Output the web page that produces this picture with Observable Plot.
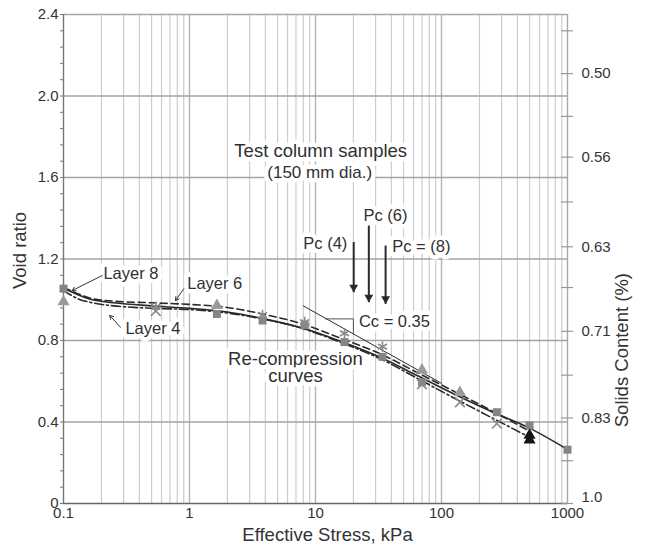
<!DOCTYPE html>
<html><head><meta charset="utf-8">
<script src="https://cdn.jsdelivr.net/npm/d3@7"></script>
<script src="https://cdn.jsdelivr.net/npm/@observablehq/plot@0.6"></script>
<style>
html,body{margin:0;padding:0;background:#fff;}
#chart{width:645px;height:550px;}
</style>
</head><body><div id="chart"></div>
<script>
// ---- curves (void ratio vs effective stress) ----
const layer8Stress = [0.1, 0.13, 0.17, 0.25, 0.5, 1, 2, 4, 8, 16, 32, 64, 128, 256, 500, 1000];
const layer8Void   = [1.058, 1.025, 1.0, 0.985, 0.97, 0.958, 0.94, 0.905, 0.86, 0.795, 0.72, 0.628, 0.535, 0.448, 0.37, 0.265];
const layer6Stress = [0.1, 0.13, 0.17, 0.25, 0.5, 1, 2, 4, 8, 16, 32, 64, 128, 256, 500];
const layer6Void   = [1.06, 1.03, 1.005, 0.993, 0.985, 0.977, 0.962, 0.927, 0.88, 0.81, 0.737, 0.643, 0.548, 0.452, 0.355];
const layer4Stress = [0.1, 0.13, 0.17, 0.25, 0.5, 1, 2, 4, 8, 16, 32, 64, 128, 256, 500];
const layer4Void   = [1.045, 1.005, 0.985, 0.97, 0.958, 0.952, 0.935, 0.903, 0.858, 0.79, 0.713, 0.615, 0.515, 0.418, 0.325];

// ---- measured points ----
const squareStress = [0.1, 1.65, 3.8, 8.2, 17, 34, 70, 275, 500, 1000];
const squareVoid   = [1.055, 0.93, 0.898, 0.875, 0.792, 0.72, 0.595, 0.448, 0.383, 0.264];
const triStress = [0.1, 1.65, 70, 140];
const triVoid   = [0.99, 0.972, 0.655, 0.545];
const starStress = [0.54, 3.8, 8.2, 17, 34];
const starVoid   = [0.965, 0.925, 0.89, 0.835, 0.77];
const crossStress = [0.54, 70, 140, 275];
const crossVoid   = [0.945, 0.585, 0.497, 0.392];
const blackTriStress = [500, 500];
const blackTriVoid   = [0.335, 0.312];

// ---- Cc tangent and slope bracket ----
const tangentStress = [8, 100];
const tangentVoid   = [0.97, 0.59];
const bracketStress = [12, 20, 20];
const bracketVoid   = [0.906, 0.906, 0.832];

// ---- preconsolidation arrows ----
const pcStress = [20.1, 26.5, 36];
const pcTop    = [1.283, 1.364, 1.266];
const pcTip    = [1.037, 0.988, 0.98];

// ---- layer label arrows ----
const labelArrowX1 = [0.203, 0.901, 0.283];
const labelArrowY1 = [1.119, 1.054, 0.865];
const labelArrowX2 = [0.117, 0.774, 0.233];
const labelArrowY2 = [1.045, 0.996, 0.923];

// ---- ticks ----
const xTicks = [0.1, 1, 10, 100, 1000];
const xMinorGrid = [0.2,0.3,0.4,0.5,0.6,0.7,0.8,0.9, 2,3,4,5,6,7,8,9, 20,30,40,50,60,70,80,90, 200,300,400,500,600,700,800,900];
const xDecadeGrid = [1, 10, 100];
const yMajor = [0, 0.4, 0.8, 1.2, 1.6, 2.0, 2.4];
const yMinor = d3.range(0, 2.4001, 0.08);
const rightTickPos = [0, 0.21, 0.42, 0.63, 0.845, 1.06, 1.26, 1.48, 1.70, 1.90, 2.11, 2.32];
const rightLabelPos = [0.03, 0.42, 0.845, 1.26, 1.70, 2.11];
const rightLabels = ["1.0", "0.83", "0.71", "0.63", "0.56", "0.50"];

const toPts = (xs, ys) => xs.map((x, i) => ({x, y: ys[i]}));
const ink = "#2a2a2a";
const FONT = "'Liberation Sans', Arial, sans-serif";

const annoBig = [
  {t: "Test column samples", x: 11, y: 1.728, a: "middle"},
  {t: "Re-compression", x: 6.93, y: 0.71, a: "middle"},
  {t: "curves", x: 6.93, y: 0.623, a: "middle"}
];
const annoMid = [
  {t: "(150 mm dia.)", x: 10.8, y: 1.625, a: "middle"}
];
const annoSmall = [
  {t: "Pc (4)", x: 17.9, y: 1.276, a: "end"},
  {t: "Pc (6)", x: 35.9, y: 1.413, a: "middle"},
  {t: "Pc = (8)", x: 40.6, y: 1.258, a: "start"},
  {t: "Cc = 0.35", x: 22.1, y: 0.89, a: "start"},
  {t: "Layer 8", x: 0.2075, y: 1.127, a: "start"},
  {t: "Layer 6", x: 0.959, y: 1.078, a: "start"},
  {t: "Layer 4", x: 0.31, y: 0.857, a: "start"}
];
const annoText = (data, size) => ["start","middle","end"].map(a =>
  Plot.text(data.filter(d => d.a === a), {x: "x", y: "y", text: "t", textAnchor: a, fontSize: size,
    fill: "#303030", stroke: "white", strokeWidth: 9, paintOrder: "stroke", strokeLinejoin: "round"}));

const chart = Plot.plot({
  width: 645, height: 550,
  marginLeft: 63, marginRight: 78, marginTop: 14, marginBottom: 47,
  x: {type: "log", domain: [0.1, 1000]},
  y: {domain: [0, 2.4]},
  style: {fontFamily: FONT, background: "white", color: "#333", overflow: "visible"},
  marks: [
    Plot.ruleX(xMinorGrid, {stroke: "#cdcdcd", strokeWidth: 1.2}),
    Plot.ruleX(xDecadeGrid, {stroke: "#b4b4b4", strokeWidth: 1.4}),
    Plot.ruleY(yMajor.filter(d => d > 0 && d < 2.4), {stroke: "#a3a3a3", strokeWidth: 1.4}),
    Plot.ruleY([2.4], {stroke: "#a8a8a8", strokeWidth: 1.4}),
    Plot.ruleX([1000], {stroke: "#a8a8a8", strokeWidth: 1.4}),
    ...annoText(annoBig, 18.5),
    ...annoText(annoMid, 17),
    ...annoText(annoSmall, 16.5),
    Plot.ruleX([0.1], {stroke: "#777", strokeWidth: 1.4}),
    Plot.ruleY([0], {stroke: "#666", strokeWidth: 1.6}),
    // tangent & bracket
    Plot.line(toPts(tangentStress, tangentVoid), {x: "x", y: "y", stroke: ink, strokeWidth: 1}),
    Plot.line(toPts(bracketStress, bracketVoid), {x: "x", y: "y", stroke: "#555", strokeWidth: 1}),
    // curves
    Plot.line(toPts(layer8Stress, layer8Void), {x: "x", y: "y", curve: "catmull-rom", stroke: ink, strokeWidth: 1.6}),
    Plot.line(toPts(layer6Stress, layer6Void), {x: "x", y: "y", curve: "catmull-rom", stroke: ink, strokeWidth: 1.6, strokeDasharray: "7,4"}),
    Plot.line(toPts(layer4Stress, layer4Void), {x: "x", y: "y", curve: "catmull-rom", stroke: ink, strokeWidth: 1.6, strokeDasharray: "9,3,2,3"}),
    // markers
    Plot.dot(toPts(squareStress, squareVoid), {x: "x", y: "y", symbol: "square", r: 4.5, fill: "#858585"}),
    Plot.dot(toPts(triStress, triVoid), {x: "x", y: "y", symbol: "triangle", r: 4.5, fill: "#9a9a9a"}),
    Plot.dot(toPts(starStress, starVoid), {x: "x", y: "y", symbol: "asterisk", r: 5, stroke: "#8a8a8a", strokeWidth: 1.6}),
    Plot.dot(toPts(crossStress, crossVoid), {x: "x", y: "y", symbol: "times", r: 4.5, stroke: "#8a8a8a", strokeWidth: 1.6}),
    Plot.dot(toPts(blackTriStress, blackTriVoid), {x: "x", y: "y", symbol: "triangle", r: 4.5, fill: "#151515"}),
    // Pc arrows
    Plot.link(pcStress, {x1: d => d, x2: d => d, y1: (d, i) => pcTop[i], y2: (d, i) => pcTip[i], stroke: ink, strokeWidth: 2}),
    Plot.dot(pcStress, {x: d => d, y: (d, i) => pcTip[i], symbol: "triangle", rotate: 180, r: 3.3, fill: ink, dy: -5}),
    // layer label arrows
    Plot.arrow(labelArrowX1, {x1: d => d, y1: (d, i) => labelArrowY1[i], x2: (d, i) => labelArrowX2[i], y2: (d, i) => labelArrowY2[i],
      stroke: "#333", strokeWidth: 1, headLength: 6}),
    // axes
    Plot.axisY({anchor: "left", ticks: yMinor, tickSize: 3, tickFormat: () => "", stroke: "#777", label: null}),
    Plot.axisY({anchor: "left", ticks: yMajor, tickSize: 0, tickPadding: 5, fontSize: 15, color: "#333",
      tickFormat: d => d === 0 ? "0" : d.toFixed(1), label: null}),
    Plot.axisX({anchor: "bottom", ticks: xTicks, tickSize: 0, tickPadding: 4, fontSize: 15, color: "#333",
      tickFormat: d => String(d), label: null}),
    Plot.ruleY(rightTickPos, {y: d => d, x1: 1000, x2: 1000, insetLeft: -6, insetRight: -6, stroke: "#999", strokeWidth: 1.2}),
    Plot.axisY({anchor: "right", ticks: rightLabelPos, tickSize: 0, tickPadding: 14, fontSize: 15, color: "#333",
      tickFormat: d => rightLabels[rightLabelPos.indexOf(d)], label: null}),
    // axis titles
    Plot.text(["Effective Stress, kPa"], {text: d => d, frameAnchor: "bottom", dy: 37, dx: 12, fontSize: 18.5, fill: "#333"}),
    Plot.text(["Void ratio"], {text: d => d, frameAnchor: "left", rotate: -90, dx: -43, dy: 30, fontSize: 18.5, fill: "#333"}),
    Plot.text(["Solids Content (%)"], {text: d => d, frameAnchor: "right", rotate: -90, dx: 55, dy: 14, fontSize: 18.5, fill: "#333"})
  ]
});
document.getElementById("chart").append(chart);
</script>
</body></html>
